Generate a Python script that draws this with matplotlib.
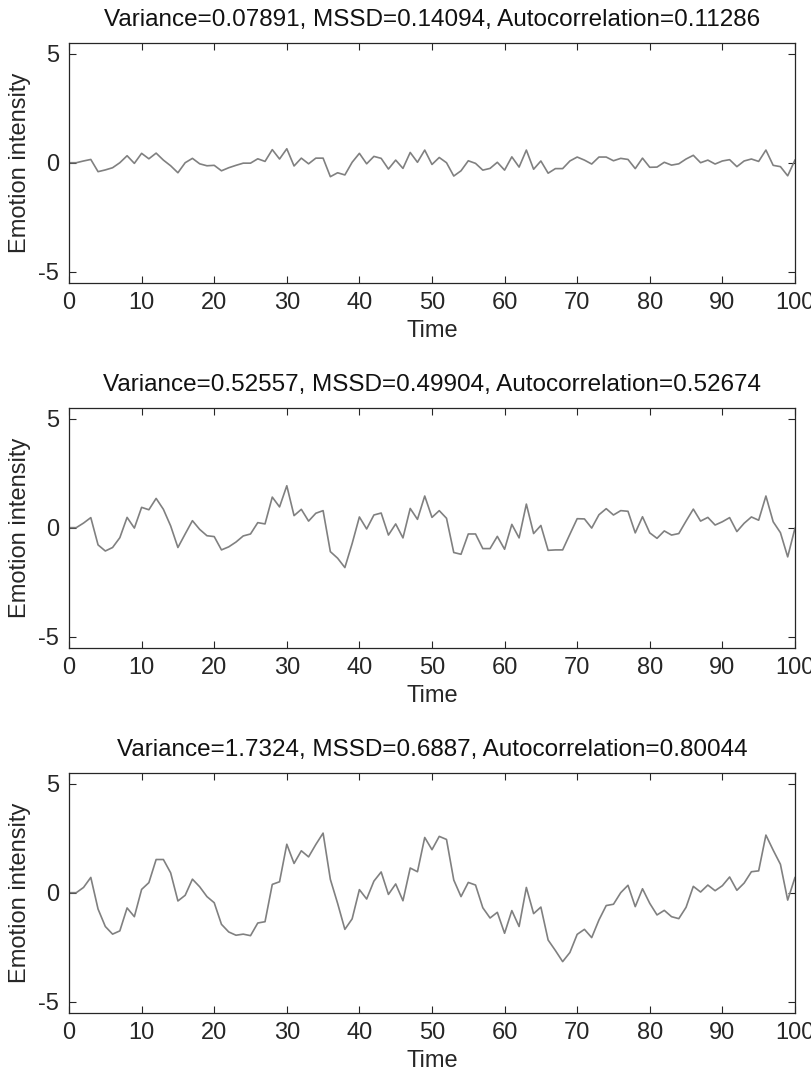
import numpy as np
import matplotlib.pyplot as plt

plt.rcParams['font.family'] = ['Liberation Sans', 'DejaVu Sans']
plt.rcParams['axes.unicode_minus'] = False

time = np.arange(0, 101)

low = [0, 0, 0.08, 0.15, -0.41, -0.33, -0.23, 0, 0.32, -0.03,
       0.43, 0.18, 0.44, 0.12, -0.14, -0.46, 0, 0.2, -0.05, -0.14,
       -0.12, -0.37, -0.23, -0.12, -0.02, -0.02, 0.18, 0.06, 0.6, 0.17,
       0.64, -0.15, 0.21, -0.05, 0.21, 0.21, -0.64, -0.46, -0.56, 0.02,
       0.43, -0.05, 0.29, 0.2, -0.29, 0.12, -0.26, 0.47, 0.02, 0.58,
       -0.08, 0.24, 0, -0.61, -0.37, 0.09, -0.03, -0.34, -0.26, 0.02,
       -0.34, 0.27, -0.2, 0.58, -0.3, 0.08, -0.48, -0.27, -0.27, 0.08,
       0.26, 0.12, -0.06, 0.26, 0.26, 0.09, 0.2, 0.15, -0.27, 0.21,
       -0.21, -0.2, 0.02, -0.11, -0.05, 0.17, 0.34, 0, 0.12, -0.06,
       0.08, 0.14, -0.18, 0.08, 0.17, 0.06, 0.58, -0.12, -0.18, -0.6,
       0.12]

mid = [0, 0, 0.21, 0.46, -0.79, -1.07, -0.91, -0.46, 0.47, -0.02,
       0.93, 0.82, 1.34, 0.84, 0.08, -0.91, -0.29, 0.32, -0.08, -0.37,
       -0.41, -1.02, -0.88, -0.66, -0.38, -0.29, 0.23, 0.17, 1.4, 0.95,
       1.92, 0.55, 0.84, 0.3, 0.66, 0.78, -1.1, -1.4, -1.83, -0.73,
       0.49, -0.06, 0.58, 0.67, -0.34, 0.17, -0.47, 0.88, 0.38, 1.45,
       0.47, 0.78, 0.43, -1.14, -1.22, -0.29, -0.29, -0.96, -0.96, -0.4,
       -0.99, 0.15, -0.47, 1.08, -0.27, 0.1, -1.04, -1.02, -1.02, -0.3,
       0.41, 0.4, -0.02, 0.59, 0.87, 0.58, 0.78, 0.75, -0.24, 0.5,
       -0.24, -0.49, -0.15, -0.34, -0.27, 0.3, 0.85, 0.3, 0.47, 0.12,
       0.27, 0.46, -0.18, 0.2, 0.49, 0.34, 1.45, 0.27, -0.23, -1.34,
       -0.03]

high = [0, 0, 0.24, 0.7, -0.75, -1.55, -1.9, -1.75, -0.7, -1.1,
        0.15, 0.46, 1.52, 1.52, 0.91, -0.38, -0.12, 0.62, 0.27, -0.18,
        -0.46, -1.45, -1.8, -1.95, -1.9, -1.97, -1.39, -1.33, 0.38, 0.5,
        2.22, 1.34, 1.92, 1.64, 2.21, 2.73, 0.61, -0.49, -1.68, -1.2,
        0.14, -0.29, 0.53, 0.95, -0.08, 0.4, -0.37, 1.13, 0.96, 2.53,
        1.97, 2.58, 2.44, 0.58, -0.18, 0.47, 0.35, -0.69, -1.16, -0.9,
        -1.86, -0.82, -1.55, 0.24, -0.96, -0.66, -2.17, -2.65, -3.16, -2.74,
        -1.91, -1.68, -2.06, -1.25, -0.59, -0.53, 0, 0.34, -0.64, 0.18,
        -0.49, -1.02, -0.81, -1.1, -1.19, -0.67, 0.29, 0.03, 0.35, 0.09,
        0.32, 0.72, 0.11, 0.44, 0.96, 1.0, 2.64, 1.95, 1.3, -0.34,
        0.69]

titles = ['Variance=0.07891, MSSD=0.14094, Autocorrelation=0.11286',
          'Variance=0.52557, MSSD=0.49904, Autocorrelation=0.52674',
          'Variance=1.7324, MSSD=0.6887, Autocorrelation=0.80044']

dark = '#262626'
fs = 17

fig = plt.figure(figsize=(8.12, 10.73), dpi=100)
bottoms = [0.7365, 0.3964, 0.0562]

for b, y, t in zip(bottoms, [low, mid, high], titles):
    ax = fig.add_axes([0.085, b, 0.894, 0.2237])
    ax.plot(time, y, color='#808080', lw=1.2)
    ax.set_xlim(0, 100)
    ax.set_ylim(-5.5, 5.5)
    ax.set_xticks(np.arange(0, 101, 10))
    ax.set_yticks([-5, 0, 5])
    ax.tick_params(direction='in', length=5, width=0.8, color=dark,
                   labelcolor=dark, labelsize=fs, top=True, right=True, pad=7)
    for s in ax.spines.values():
        s.set_color(dark)
        s.set_linewidth(0.9)
    ax.set_title(t, fontsize=17.5, color='#111111', pad=12)
    ax.set_xlabel('Time', fontsize=fs, color=dark, labelpad=4)
    ax.set_ylabel('Emotion intensity', fontsize=fs, color=dark, labelpad=5)

fig.savefig('out.png', dpi=100)
